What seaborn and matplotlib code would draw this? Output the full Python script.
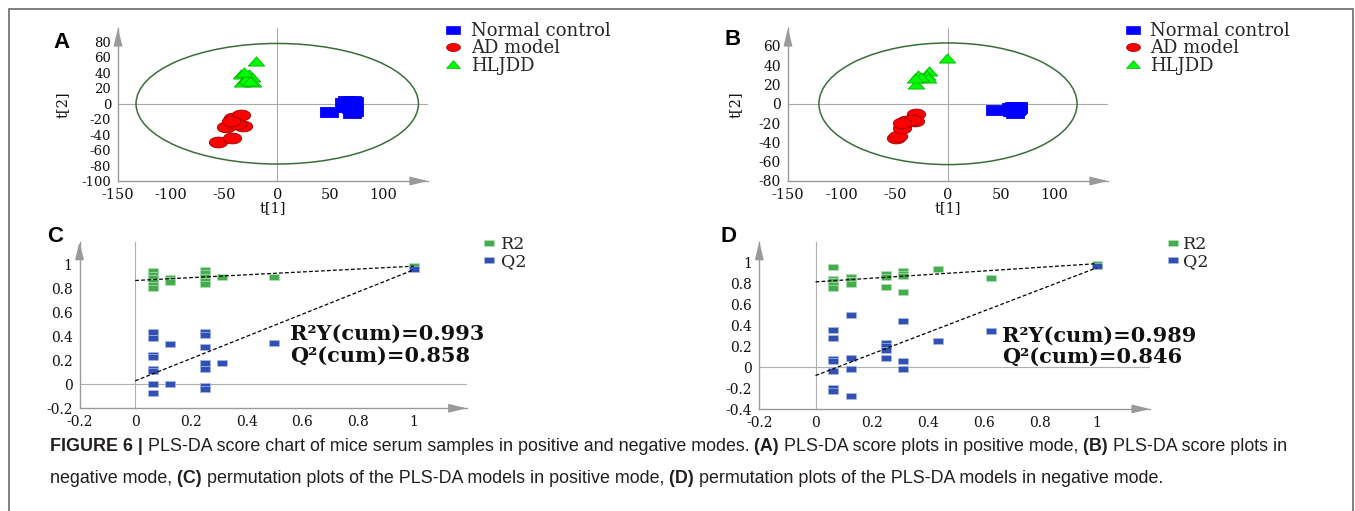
import matplotlib
matplotlib.use("Agg")
import matplotlib.pyplot as plt
import matplotlib.font_manager as fm
import numpy as np
import pandas as pd
import seaborn as sns
from matplotlib.path import Path
from matplotlib.markers import MarkerStyle
from matplotlib.patches import Ellipse, Rectangle
from matplotlib.lines import Line2D
from matplotlib.ticker import AutoMinorLocator

W, H = 1355, 511

# ---------------- data ----------------
group_names = ["Normal control", "AD model", "HLJDD"]

# Panel A (positive mode score plot)
a_normal_t1 = [49, 63, 66, 70, 72, 64, 69, 72, 70, 71]
a_normal_t2 = [-11, 1, 3, 3, 2, -4, -6, -9, -12, -5]
a_ad_t1 = [-56, -43, -48, -32, -41, -42, -34, -38, -44]
a_ad_t2 = [-49, -44, -30, -29, -24, -19, -15, -26, -23]
a_hljdd_t1 = [-20, -34, -27, -24, -33, -23, -29, -31, -26]
a_hljdd_t2 = [55, 38, 38, 35, 28, 28, 32, 41, 30]
a_ellipse_axes = [133, 78]
a_yticks = [-100, -80, -60, -40, -20, 0, 20, 40, 60, 80]

# Panel B (negative mode score plot)
b_normal_t1 = [44, 59, 62, 66, 64, 60, 65, 63, 61, 66]
b_normal_t2 = [-6, -4, -3, -3, -6, -7, -5, -10, -8, -4]
b_ad_t1 = [-49, -47, -43, -39, -30, -31, -34, -43]
b_ad_t2 = [-35, -33, -25, -18, -11, -18, -17, -20]
b_hljdd_t1 = [-1, -30, -28, -18, -20, -19, -25, -31]
b_hljdd_t2 = [47, 20, 30, 34, 30, 27, 28, 27]
b_ellipse_axes = [121, 63]
b_yticks = [-80, -60, -40, -20, 0, 20, 40, 60]

score_xticks = [-150, -100, -50, 0, 50, 100]

# Panel C (positive mode permutation)
c_r2_x = [0.0625] * 6 + [0.125] * 3 + [0.25] * 5 + [0.3125, 0.5, 1.0]
c_r2 = [0.95, 0.92, 0.89, 0.86, 0.83, 0.81, 0.89, 0.875, 0.86,
        0.96, 0.93, 0.90, 0.87, 0.84, 0.90, 0.90, 0.993]
c_q2_x = [0.0625] * 8 + [0.125] * 2 + [0.25] * 7 + [0.3125, 0.5, 1.0]
c_q2 = [0.44, 0.39, 0.25, 0.23, 0.13, 0.11, 0.0, -0.07, 0.34, 0.0,
        0.44, 0.41, 0.31, 0.18, 0.13, -0.01, -0.04, 0.18, 0.35, 0.965]
c_r2_fit = [0.87, 0.99]
c_q2_fit = [0.03, 0.96]
c_yticks = [-0.2, 0, 0.2, 0.4, 0.6, 0.8, 1]
c_yticklabels = ["-0.2", "0", "0.2", "0.4", "0.6", "0.8", "1"]
c_stats = ["R²Y(cum)=0.993", "Q²(cum)=0.858"]

# Panel D (negative mode permutation)
d_r2_x = [0.0625] * 5 + [0.125] * 3 + [0.25] * 3 + [0.3125] * 4 + [0.4375, 0.625, 1.0]
d_r2 = [0.96, 0.84, 0.82, 0.79, 0.76, 0.86, 0.83, 0.80, 0.89, 0.86, 0.77,
        0.92, 0.89, 0.87, 0.72, 0.94, 0.85, 0.99]
d_q2_x = [0.0625] * 7 + [0.125] * 4 + [0.25] * 4 + [0.3125] * 3 + [0.4375, 0.625, 1.0]
d_q2 = [0.36, 0.28, 0.08, 0.06, -0.04, -0.20, -0.23, 0.50, 0.09, -0.02, -0.28,
        0.23, 0.20, 0.16, 0.09, 0.44, 0.06, -0.02, 0.25, 0.35, 0.965]
d_r2_fit = [0.816, 0.99]
d_q2_fit = [-0.08, 0.95]
d_yticks = [-0.4, -0.2, 0, 0.2, 0.4, 0.6, 0.8, 1]
d_yticklabels = ["-0.4", "-0.2", "0", "0.2", "0.4", "0.6", "0.8", "1"]
d_stats = ["R²Y(cum)=0.989", "Q²(cum)=0.846"]

fit_x = [0, 1]
perm_xticks = [-0.2, 0, 0.2, 0.4, 0.6, 0.8, 1]
perm_xticklabels = ["-0.2", "0", "0.2", "0.4", "0.6", "0.8", "1"]
perm_series = ["R2", "Q2"]

caption_line1 = [("FIGURE 6 |", True),
                 (" PLS-DA score chart of mice serum samples in positive and negative modes.", False),
                 (" (A)", True), (" PLS-DA score plots in positive mode,", False),
                 (" (B)", True), (" PLS-DA score plots in", False)]
caption_line2 = [("negative mode,", False), (" (C)", True),
                 (" permutation plots of the PLS-DA models in positive mode,", False),
                 (" (D)", True),
                 (" permutation plots of the PLS-DA models in negative mode.", False)]

# ---------------- style ----------------
sns.set_theme(style="white")
plt.rcParams["font.family"] = ["DejaVu Serif"]
plt.rcParams["axes.unicode_minus"] = False

AXC = "#9a9a9a"


def stretched_marker(kind, r):
    if kind == "rect":
        verts = [(-r, -1), (r, -1), (r, 1), (-r, 1), (-r, -1)]
        codes = [Path.MOVETO, Path.LINETO, Path.LINETO, Path.LINETO, Path.CLOSEPOLY]
        return MarkerStyle(Path(verts, codes))
    if kind == "ellipse":
        c = Path.unit_circle()
        return MarkerStyle(Path(c.vertices * np.array([r, 1.0]), c.codes))
    verts = [(-r, -1), (r, -1), (0, 1), (-r, -1)]
    codes = [Path.MOVETO, Path.LINETO, Path.LINETO, Path.CLOSEPOLY]
    return MarkerStyle(Path(verts, codes))


score_styles = [
    dict(m=stretched_marker("rect", 1.75), s=150, fc="#0000ff", ec="#0000ff", ms=10),
    dict(m=stretched_marker("ellipse", 1.7), s=175, fc="#ff0000", ec="#9a0000", ms=10),
    dict(m=stretched_marker("tri", 1.8), s=140, fc="#00ff00", ec="#00b000", ms=10),
]
perm_marker = stretched_marker("rect", 1.5)
perm_colors = {"R2": ("#44ad4e", "#b5dfb8"), "Q2": ("#3050b4", "#aab8e6")}

fig = plt.figure(figsize=(W / 100, H / 100), dpi=100)


def px_axes(left, top, right, bottom):
    return fig.add_axes([left / W, 1 - bottom / H, (right - left) / W, (bottom - top) / H])


def add_arrows(ax):
    kw = dict(arrowstyle="-|>,head_length=0.9,head_width=0.22", color=AXC, lw=1,
              shrinkA=0, shrinkB=0)
    ax.annotate("", xy=(1.0, 0), xytext=(0.96, 0), xycoords="axes fraction",
                arrowprops=kw, annotation_clip=False)
    ax.annotate("", xy=(0, 1.0), xytext=(0, 0.94), xycoords="axes fraction",
                arrowprops=kw, annotation_clip=False)


def style_axes(ax, xsize, ysize):
    for s in ["top", "right"]:
        ax.spines[s].set_visible(False)
    for s in ["left", "bottom"]:
        ax.spines[s].set_color(AXC)
        ax.spines[s].set_linewidth(1.0)
    ax.tick_params(which="major", direction="out", length=3, width=0.8, color=AXC,
                   labelcolor="#111111", pad=2)
    ax.tick_params(axis="x", labelsize=xsize)
    ax.tick_params(axis="y", labelsize=ysize)
    ax.tick_params(which="minor", direction="out", length=1.8, width=0.6, color=AXC)
    ax.xaxis.set_minor_locator(AutoMinorLocator(2))
    ax.yaxis.set_minor_locator(AutoMinorLocator(4))
    ax.grid(False)
    add_arrows(ax)


def score_panel(ax, data, ell, xlim, ylim, yticks, ysize):
    ax.add_patch(Ellipse((0, 0), 2 * ell[0], 2 * ell[1], fill=False, ec="#3b6d3b",
                         lw=1.1, zorder=1))
    ax.axhline(0, color="#a8a8a8", lw=0.8, zorder=0)
    ax.axvline(0, color="#a8a8a8", lw=0.8, zorder=0)
    for (x, y), st in zip(data, score_styles):
        sns.scatterplot(x=x, y=y, ax=ax, marker=st["m"], s=st["s"], color=st["fc"],
                        edgecolor=st["ec"], linewidth=0.6, legend=False, zorder=3)
    ax.set_xlim(*xlim)
    ax.set_ylim(*ylim)
    ax.set_xticks(score_xticks)
    ax.set_yticks(yticks)
    style_axes(ax, 10.5, ysize)
    ax.xaxis.set_minor_locator(AutoMinorLocator(5))
    ax.yaxis.set_minor_locator(AutoMinorLocator(4))
    ax.set_xlabel("t[1]", fontsize=10.5, color="#111111")
    ax.set_ylabel("t[2]", fontsize=10.5, color="#111111")


def score_legend(ax, x_left, y_top, pad):
    handles = [Line2D([], [], ls="", marker=st["m"], markersize=st["ms"],
                      markerfacecolor=st["fc"], markeredgecolor=st["ec"], markeredgewidth=0.5)
               for st in score_styles]
    ax.legend(handles, group_names, loc="upper left",
              bbox_to_anchor=(x_left / W, 1 - y_top / H), bbox_transform=fig.transFigure,
              frameon=False, borderpad=0, borderaxespad=0, handlelength=1.0,
              handletextpad=pad, labelspacing=-0.04, fontsize=13)


def perm_panel(ax, r2x, r2, q2x, q2, r2fit, q2fit, ylim, yticks, yticklabels, stats, stat_pos):
    ax.axhline(0, color="#b0b0b0", lw=0.8, zorder=0)
    ax.axvline(0, color="#b0b0b0", lw=0.8, zorder=0)
    for name, xs, ys in [("R2", r2x, r2), ("Q2", q2x, q2)]:
        fc, ec = perm_colors[name]
        sns.scatterplot(x=xs, y=ys, ax=ax, marker=perm_marker, s=52, color=fc,
                        edgecolor=ec, linewidth=0.5, legend=False, zorder=3)
    for fit in [r2fit, q2fit]:
        sns.lineplot(x=fit_x, y=fit, ax=ax, color="black", lw=0.9,
                     dashes=False, zorder=4).lines[-1].set_dashes((3.0, 1.8))
    ax.set_xlim(-0.2, 1.19)
    ax.set_ylim(*ylim)
    ax.set_xticks(perm_xticks)
    ax.set_xticklabels(perm_xticklabels)
    ax.set_yticks(yticks)
    ax.set_yticklabels(yticklabels)
    style_axes(ax, 10, 10)
    ax.text(stat_pos[0], stat_pos[1], stats[0], fontsize=15, fontweight="bold",
            ha="left", va="center", color="#111111")
    ax.text(stat_pos[0], stat_pos[2], stats[1], fontsize=15, fontweight="bold",
            ha="left", va="center", color="#111111")


def perm_legend(ax, x_left, y_top, pad):
    handles = [Line2D([], [], ls="", marker=perm_marker, markersize=7.5,
                      markerfacecolor=perm_colors[n][0], markeredgecolor=perm_colors[n][1],
                      markeredgewidth=0.5) for n in perm_series]
    ax.legend(handles, perm_series, loc="upper left",
              bbox_to_anchor=(x_left / W, 1 - y_top / H), bbox_transform=fig.transFigure,
              frameon=False, borderpad=0, borderaxespad=0, handlelength=1.0,
              handletextpad=pad, labelspacing=0.0, fontsize=12.5)


# ---------------- panels ----------------
axA = px_axes(118, 28, 428, 181)
score_panel(axA, [(a_normal_t1, a_normal_t2), (a_ad_t1, a_ad_t2), (a_hljdd_t1, a_hljdd_t2)],
            a_ellipse_axes, (-150, 142), (-100, 98), a_yticks, 9.5)
axA.xaxis.set_label_coords(0.5, -0.13)
axA.yaxis.set_label_coords(-0.155, 0.5)
score_legend(axA, 444, 22, 0.52)

axB = px_axes(788, 28, 1108, 181)
score_panel(axB, [(b_normal_t1, b_normal_t2), (b_ad_t1, b_ad_t2), (b_hljdd_t1, b_hljdd_t2)],
            b_ellipse_axes, (-150, 150), (-80, 78.5), b_yticks, 10)
axB.xaxis.set_label_coords(0.5, -0.13)
axB.yaxis.set_label_coords(-0.142, 0.5)
score_legend(axB, 1124, 22, 0.45)

axC = px_axes(79.5, 241.7, 466.7, 408.3)
perm_panel(axC, c_r2_x, c_r2, c_q2_x, c_q2, c_r2_fit, c_q2_fit, (-0.2, 1.195),
           c_yticks, c_yticklabels, c_stats, (0.556, 0.42, 0.24))
perm_legend(axC, 480, 236, 0.22)

axD = px_axes(759.3, 241.7, 1150, 409)
perm_panel(axD, d_r2_x, d_r2, d_q2_x, d_q2, d_r2_fit, d_q2_fit, (-0.4, 1.2),
           d_yticks, d_yticklabels, d_stats, (0.665, 0.304, 0.103))
perm_legend(axD, 1164, 236, 0.12)

# ---------------- panel letters ----------------
for letter, (lx, ly) in zip("ABCD", [(53, 48), (725, 45), (47, 242), (720, 242)]):
    fig.text(lx / W, 1 - ly / H, letter, fontsize=16, fontweight="bold",
             family=["Liberation Sans", "DejaVu Sans"], ha="left", va="baseline", color="black")

# ---------------- figure frame ----------------
fig.add_artist(Rectangle((9 / W, -0.02), (1353 - 9) / W, 1.02 - 9 / H,
                         transform=fig.transFigure, fill=False, ec="#6a6a6a", lw=1.2))

# ---------------- caption ----------------
try:
    fm.findfont(fm.FontProperties(family="Liberation Sans Narrow"), fallback_to_default=False)
    cap_family = ["Liberation Sans Narrow", "DejaVu Sans"]
except Exception:
    cap_family = ["Liberation Sans", "DejaVu Sans"]

renderer = fig.canvas.get_renderer()


def draw_line(segments, x0, y0, size):
    x = x0
    arts = []
    for txt, bold in segments:
        t = fig.text(x / W, 1 - y0 / H, txt, fontsize=size,
                     fontweight="bold" if bold else "normal", family=cap_family,
                     ha="left", va="baseline", color="#231f20")
        bb = t.get_window_extent(renderer)
        x += bb.width
        arts.append(t)
    return arts, x - x0


base = 13.0
arts, wid = draw_line(caption_line1, 50, 451, base)
for a in arts:
    a.remove()
cap_size = base * 1236 / wid
draw_line(caption_line1, 50, 451, cap_size)
draw_line(caption_line2, 50, 483, cap_size)

fig.savefig("out.png", dpi=100)
